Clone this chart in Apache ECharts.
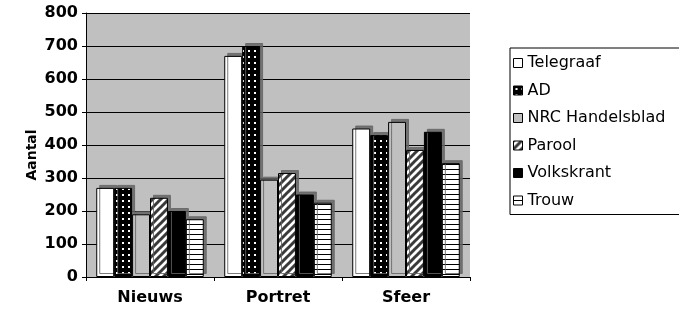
<!DOCTYPE html>
<html>
<head>
<meta charset="utf-8">
<script src="https://cdn.jsdelivr.net/npm/echarts@6/dist/echarts.min.js"></script>
<style>
  html, body { margin: 0; padding: 0; background: #fff; }
  #chart { width: 679px; height: 309px; }
</style>
</head>
<body>
<div id="chart"></div>
<script>
  // categories en waarden
  var categories = ['Nieuws', 'Portret', 'Sfeer'];
  var telegraaf = [270, 670, 450];
  var ad = [270, 700, 430];
  var nrc = [190, 295, 470];
  var parool = [240, 315, 385];
  var volkskrant = [200, 250, 440];
  var trouw = [175, 225, 345];
  var yTicks = [0, 100, 200, 300, 400, 500, 600, 700, 800];

  var boldFont = 'DejaVu Sans, Verdana, sans-serif';

  // patronen voor de vulling
  function makePattern(w, h, draw) {
    var c = document.createElement('canvas');
    c.width = w; c.height = h;
    draw(c.getContext('2d'), w, h);
    return { image: c, repeat: 'repeat' };
  }
  var dots = makePattern(6, 6, function (ctx, w, h) {
    ctx.fillStyle = '#000'; ctx.fillRect(0, 0, w, h);
    ctx.fillStyle = '#fff'; ctx.fillRect(2, 2, 2, 2);
  });
  var diag = makePattern(8, 8, function (ctx, w, h) {
    ctx.fillStyle = '#fff'; ctx.fillRect(0, 0, w, h);
    ctx.strokeStyle = '#3a3a3a'; ctx.lineWidth = 3;
    ctx.beginPath();
    ctx.moveTo(-2, 10); ctx.lineTo(10, -2);
    ctx.moveTo(-2, 2); ctx.lineTo(2, -2);
    ctx.moveTo(6, 10); ctx.lineTo(10, 6);
    ctx.stroke();
  });
  var hstripes = makePattern(4, 5, function (ctx, w, h) {
    ctx.fillStyle = '#fff'; ctx.fillRect(0, 0, w, h);
    ctx.fillStyle = '#000'; ctx.fillRect(0, 4, w, 1);
  });

  var seriesDefs = [
    { name: 'Telegraaf', data: telegraaf, color: '#ffffff' },
    { name: 'AD', data: ad, color: dots },
    { name: 'NRC Handelsblad', data: nrc, color: '#c0c0c0' },
    { name: 'Parool', data: parool, color: diag },
    { name: 'Volkskrant', data: volkskrant, color: '#000000' },
    { name: 'Trouw', data: trouw, color: hstripes }
  ];

  var series = [];
  seriesDefs.forEach(function (s) {
    series.push({
      name: s.name,
      type: 'bar',
      data: s.data,
      barGap: '0%',
      barCategoryGap: '16%',
      itemStyle: {
        color: s.color,
        borderColor: '#000',
        borderWidth: 1,
        shadowColor: 'rgba(100,100,100,0.85)',
        shadowOffsetX: 3,
        shadowOffsetY: -3,
        shadowBlur: 0
      }
    });
  });

  var myChart = echarts.init(document.getElementById('chart'), null, { renderer: 'canvas' });
  myChart.setOption({
    animation: false,
    backgroundColor: '#fff',
    textStyle: { fontFamily: boldFont },
    grid: {
      left: 86,
      right: 209,
      top: 13,
      bottom: 32,
      show: true,
      backgroundColor: '#c0c0c0',
      borderWidth: 0
    },
    graphic: [{
      type: 'text',
      x: 32,
      y: 155,
      rotation: Math.PI / 2,
      style: {
        text: 'Aantal',
        fill: '#000',
        font: 'bold 14px ' + boldFont,
        align: 'center',
        verticalAlign: 'middle'
      }
    }],
    legend: {
      orient: 'vertical',
      left: 510,
      top: 48,
      icon: 'rect',
      itemWidth: 9,
      itemHeight: 9,
      itemGap: 11.5,
      padding: [7, 20, 6, 3],
      borderColor: '#000',
      borderWidth: 1,
      backgroundColor: '#fff',
      itemStyle: { borderColor: '#000', borderWidth: 1 },
      textStyle: {
        color: '#000',
        fontSize: 16,
        lineHeight: 16,
        padding: [0, 0, 0, 0],
        fontFamily: boldFont
      },
      data: seriesDefs.map(function (s) { return s.name; })
    },
    xAxis: {
      type: 'category',
      data: categories,
      axisLine: { show: true, lineStyle: { color: '#000', width: 1 } },
      axisTick: { show: true, length: 4, lineStyle: { color: '#000' } },
      axisLabel: {
        color: '#000',
        fontSize: 16,
        fontWeight: 'bold',
        fontFamily: boldFont,
        margin: 13
      }
    },
    yAxis: {
      type: 'value',
      min: yTicks[0],
      max: yTicks[yTicks.length - 1],
      interval: 100,
      axisLine: { show: true, lineStyle: { color: '#000', width: 1 } },
      axisTick: { show: true, length: 4, lineStyle: { color: '#000' } },
      axisLabel: {
        color: '#000',
        fontSize: 16,
        fontWeight: 'bold',
        fontFamily: boldFont,
        margin: 8
      },
      splitLine: { show: true, lineStyle: { color: '#000', width: 1 } }
    },
    series: series
  });
</script>
</body>
</html>
